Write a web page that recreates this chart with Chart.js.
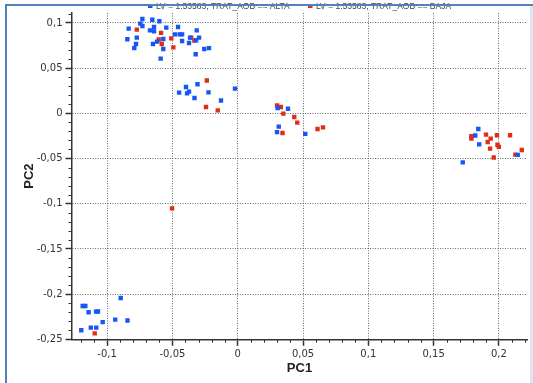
<!DOCTYPE html>
<html>
<head>
<meta charset="utf-8">
<title>PC1 / PC2</title>
<script src="https://cdn.jsdelivr.net/npm/chart.js@4/dist/chart.umd.min.js"></script>
<style>
    body { margin: 0; background: #fff; }
    #wrap { position: relative; width: 533px; height: 383px; overflow: hidden; }
    #plot { position: absolute; left: 0; top: 0; }
    .frame { position: absolute; background: #4f81bd; }
    #frameTop { left: 5px; top: 4px; width: 528px; height: 2px; }
    #frameLeft { left: 5px; top: 4px; width: 2px; height: 379px; }
    #frameRight { position: absolute; right: 0; top: 6px; width: 3px; height: 377px; background: #dfe3f7; }
</style>
</head>
<body>
<div id="wrap">
    <canvas id="plot" width="533" height="383"></canvas>
    <div class="frame" id="frameTop"></div>
    <div class="frame" id="frameLeft"></div>
    <div id="frameRight"></div>
</div>
<script>
/* values */
const legendLabels = ['LV = 1.53583, TRAT_AOB == ALTA', 'LV = 1.53583, TRAT_AOB == BAJA'];

// group ALTA (blue)
const altaPC1 = [
    -0.0835, -0.0845, -0.0779, -0.0792, -0.0773, -0.0746, -0.0730, -0.0730, -0.0654, -0.0672,
    -0.0641, -0.0641, -0.0649, -0.0618, -0.0600, -0.0570, -0.0570, -0.0590, -0.0547, -0.0480,
    -0.0457, -0.0444, -0.0426, -0.0426, -0.0373, -0.0365, -0.0322, -0.0319, -0.0314, -0.0296,
    -0.0256, -0.0220,
    -0.0449, -0.0396, -0.0388, -0.0373, -0.0331, -0.0308, -0.0224, -0.0128, -0.0021,
    0.0306, 0.0385, 0.0314, 0.0301, 0.0517,
    0.1842, 0.1819, 0.1849, 0.1723, 0.2144,
    -0.0896, -0.1187, -0.1167, -0.1142, -0.1085, -0.1070, -0.1034, -0.0938, -0.0844, -0.1125,
    -0.1083, -0.1198
];
const altaPC2 = [
    0.0937, 0.0819, 0.0767, 0.0722, 0.0837, 0.0992, 0.1043, 0.0966, 0.1036, 0.0918,
    0.0955, 0.0907, 0.0767, 0.0793, 0.1018, 0.0822, 0.0711, 0.0605, 0.0948, 0.0874,
    0.0955, 0.0874, 0.0874, 0.0800, 0.0778, 0.0837, 0.0653, 0.0808, 0.0918, 0.0837,
    0.0711, 0.0722,
    0.0229, 0.0291, 0.0221, 0.0240, 0.0169, 0.0321, 0.0232, 0.0142, 0.0273,
    0.0059, 0.0050, -0.0147, -0.0208, -0.0227,
    -0.0174, -0.0246, -0.0343, -0.0542, -0.0459,
    -0.2043, -0.2132, -0.2132, -0.2201, -0.2194, -0.2193, -0.2310, -0.2282, -0.2292, -0.2371,
    -0.2371, -0.2400
];

// group BAJA (red)
const bajaPC1 = [
    -0.0773, -0.0587, -0.0605, -0.0582, -0.0509, -0.0493, -0.0356, -0.0332,
    -0.0237, -0.0243, -0.0153,
    0.0301, 0.0330, 0.0349, 0.0433, 0.0456, 0.0343, 0.0611, 0.0653,
    -0.0503,
    0.1789, 0.1789, 0.1901, 0.1937, 0.1914, 0.1985, 0.2085, 0.1989, 0.1999, 0.1932,
    0.1960, 0.2126, 0.2175,
    -0.1095
];
const bajaPC2 = [
    0.0926, 0.0890, 0.0817, 0.0767, 0.0829, 0.0730, 0.0837, 0.0804,
    0.0363, 0.0070, 0.0033,
    0.0086, 0.0070, -0.0003, -0.0041, -0.0103, -0.0218, -0.0174, -0.0155,
    -0.1051,
    -0.0254, -0.0280, -0.0236, -0.0280, -0.0317, -0.0243, -0.0243, -0.0348, -0.0371, -0.0390,
    -0.0489, -0.0457, -0.0406,
    -0.2434
];

const pc1Range = [-0.1269, 0.2215];
const pc2Range = [-0.25, 0.111];
const majorStep = 0.05;
const minorStep = 0.01;

const blue = 'rgb(22, 86, 245)';
const red = 'rgb(222, 46, 24)';

function toPoints(xs, ys) {
    return xs.map((x, i) => ({ x: x, y: ys[i] }));
}

function fmt(v) {
    return String(parseFloat(v.toFixed(2))).replace('.', ',');
}

// small outward minor tick marks between the labelled ones
const minorTicks = {
    id: 'minorTicks',
    afterDraw(chart) {
        const ctx = chart.ctx;
        const xs = chart.scales.x;
        const ys = chart.scales.y;
        ctx.save();
        ctx.strokeStyle = '#333';
        ctx.lineWidth = 1;
        for (let i = Math.ceil(xs.min / minorStep); i <= Math.floor(xs.max / minorStep); i++) {
            if (i % 5 === 0) continue;
            const px = Math.round(xs.getPixelForValue(i * minorStep)) + 0.5;
            ctx.beginPath();
            ctx.moveTo(px, xs.top);
            ctx.lineTo(px, xs.top + 3.5);
            ctx.stroke();
        }
        for (let i = Math.ceil(ys.min / minorStep); i <= Math.floor(ys.max / minorStep); i++) {
            if (i % 5 === 0) continue;
            const py = Math.round(ys.getPixelForValue(i * minorStep)) + 0.5;
            ctx.beginPath();
            ctx.moveTo(ys.right, py);
            ctx.lineTo(ys.right - 3.5, py);
            ctx.stroke();
        }
        ctx.restore();
    }
};

// legend squeezed against the top edge, as in the original window
const topLegend = {
    id: 'topLegend',
    afterDraw(chart) {
        const ctx = chart.ctx;
        const starts = [148, 308];
        ctx.save();
        ctx.font = '8.5px "Liberation Sans"';
        ctx.textBaseline = 'alphabetic';
        chart.data.datasets.forEach((ds, i) => {
            ctx.fillStyle = ds.backgroundColor;
            ctx.fillRect(starts[i], 4.5, 4.5, 3.5);
            ctx.fillStyle = '#444';
            ctx.fillText(legendLabels[i], starts[i] + 8, 9);
        });
        ctx.restore();
    }
};

const tickFont = { family: 'DejaVu Sans', size: 10 };
const titleFont = { family: 'Liberation Sans', size: 13, weight: 'bold' };

new Chart(document.getElementById('plot'), {
    type: 'scatter',
    data: {
        datasets: [
            {
                label: legendLabels[0],
                data: toPoints(altaPC1, altaPC2),
                backgroundColor: blue,
                borderWidth: 0,
                pointStyle: 'rect',
                pointRadius: 3.1
            },
            {
                label: legendLabels[1],
                data: toPoints(bajaPC1, bajaPC2),
                backgroundColor: red,
                borderWidth: 0,
                pointStyle: 'rect',
                pointRadius: 3.1
            }
        ]
    },
    options: {
        responsive: false,
        animation: false,
        layout: { padding: { top: 13, right: 6, left: 0, bottom: 0 } },
        plugins: {
            legend: { display: false },
            tooltip: { enabled: false }
        },
        scales: {
            x: {
                type: 'linear',
                min: pc1Range[0],
                max: pc1Range[1],
                afterFit: (scale) => { scale.height = 43.7; },
                ticks: {
                    stepSize: majorStep,
                    includeBounds: false,
                    autoSkip: false,
                    maxRotation: 0,
                    padding: 3,
                    color: '#333',
                    font: tickFont,
                    callback: (v) => fmt(v)
                },
                grid: {
                    color: '#6a6a6a',
                    lineWidth: 1,
                    tickColor: '#333',
                    tickLength: 6.5,
                    tickWidth: 1.5
                },
                border: { color: '#333', width: 1.5, dash: [1, 1.5] },
                title: {
                    display: true,
                    text: 'PC1',
                    color: '#222',
                    font: titleFont,
                    padding: { top: 0, bottom: 7 }
                }
            },
            y: {
                type: 'linear',
                min: pc2Range[0],
                max: pc2Range[1],
                afterFit: (scale) => { scale.width = 72; },
                ticks: {
                    stepSize: majorStep,
                    includeBounds: false,
                    autoSkip: false,
                    padding: 3,
                    color: '#333',
                    font: tickFont,
                    callback: (v) => fmt(v)
                },
                grid: {
                    color: '#6a6a6a',
                    lineWidth: 1,
                    tickColor: '#333',
                    tickLength: 6.5,
                    tickWidth: 1.5
                },
                border: { color: '#333', width: 1.5, dash: [1, 1.5] },
                title: {
                    display: true,
                    text: 'PC2',
                    color: '#222',
                    font: titleFont,
                    padding: { top: 22, bottom: 0 }
                }
            }
        }
    },
    plugins: [minorTicks, topLegend]
});
</script>
</body>
</html>
